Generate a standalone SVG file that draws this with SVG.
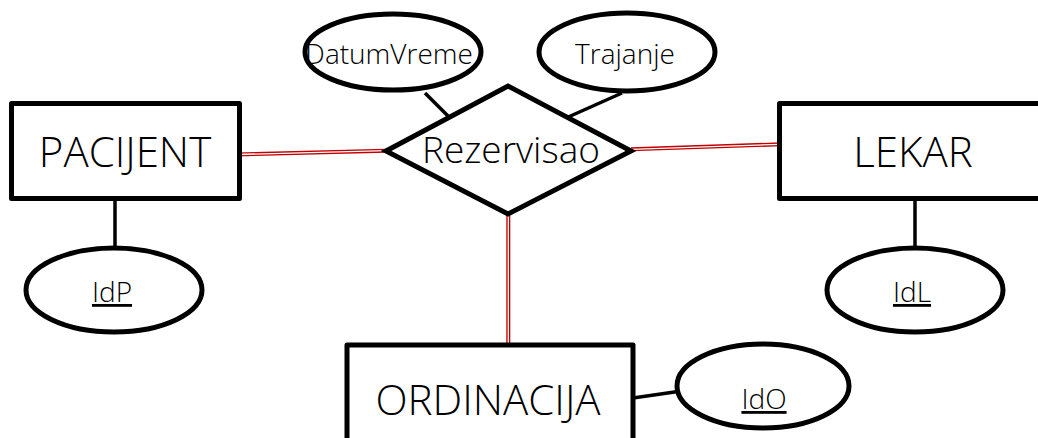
<svg xmlns="http://www.w3.org/2000/svg" width="1038" height="438" viewBox="0 0 1038 438">
<style>
.ent{fill:#fff;stroke:#000;stroke-width:5;stroke-linejoin:round}
.att{fill:#fff;stroke:#000;stroke-width:5}
.rel{fill:#fff;stroke:#000;stroke-width:5;stroke-linejoin:miter}
.ln{stroke:#000;stroke-width:3.5;fill:none}
.dbl{stroke:#c00000;stroke-width:4;fill:none}
.dbli{stroke:#fff;stroke-width:1.3;fill:none}
text{font-family:"Segoe UI","Open Sans","Noto Sans",sans-serif;font-weight:300;fill:#000;text-anchor:middle}
.big{font-size:42px}
.mid{font-size:37px}
.sm{font-size:28px}
.key{font-size:28px;text-decoration:underline}
</style>
<g id="connectors">
<line class="ln" x1="115" y1="198" x2="115" y2="248"/>
<line class="ln" x1="915" y1="198" x2="915" y2="248"/>
<line class="ln" x1="633" y1="398" x2="678" y2="391.5"/>
<line class="ln" x1="425" y1="93" x2="448" y2="116"/>
<line class="ln" x1="622" y1="93" x2="566" y2="118"/>
<line class="dbl" x1="236" y1="154.5" x2="386" y2="150.7"/>
<line class="dbli" x1="236" y1="154.5" x2="386" y2="150.7"/>
<line class="dbl" x1="631" y1="149.3" x2="780" y2="144.3"/>
<line class="dbli" x1="631" y1="149.3" x2="780" y2="144.3"/>
<line class="dbl" x1="508.3" y1="214" x2="508.3" y2="344"/>
<line class="dbli" x1="508.3" y1="214" x2="508.3" y2="344"/>
</g>
<g id="pacijent">
<rect class="ent" x="11.5" y="103.5" width="228" height="95"/>
<text class="big" x="125" y="167">PACIJENT</text>
</g>
<g id="lekar">
<rect class="ent" x="779.5" y="103.5" width="270" height="95"/>
<text class="big" x="913" y="167">LEKAR</text>
</g>
<g id="ordinacija">
<rect class="ent" x="347" y="345" width="286" height="100"/>
<text class="big" x="488" y="415">ORDINACIJA</text>
</g>
<g id="rezervisao">
<polygon class="rel" points="386,151 508,86 631,151 508,214"/>
<text class="mid" x="511" y="162.5">Rezervisao</text>
</g>
<g id="datumvreme">
<ellipse class="att" cx="393" cy="52" rx="88" ry="38"/>
<text class="sm" x="389" y="64">DatumVreme</text>
</g>
<g id="trajanje">
<ellipse class="att" cx="627" cy="52" rx="88" ry="39"/>
<text class="sm" x="625" y="63.5">Trajanje</text>
</g>
<g id="idp">
<ellipse class="att" cx="114" cy="290" rx="88" ry="42"/>
<text class="key" x="112" y="302">IdP</text>
</g>
<g id="idl">
<ellipse class="att" cx="915" cy="290" rx="88" ry="42"/>
<text class="key" x="912" y="302">IdL</text>
</g>
<g id="ido">
<ellipse class="att" cx="763" cy="386" rx="86" ry="42"/>
<text class="key" x="764" y="409">IdO</text>
</g>
</svg>
